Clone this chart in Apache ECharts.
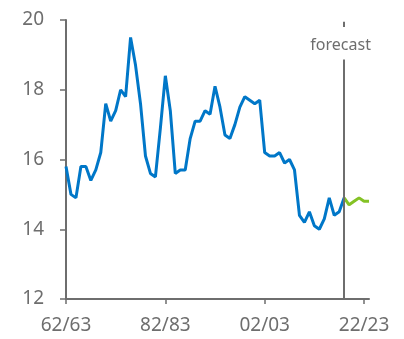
<!DOCTYPE html>
<html>
<head>
<meta charset="utf-8">
<script src="https://cdn.jsdelivr.net/npm/echarts@6/dist/echarts.min.js"></script>
<style>
  html, body { margin: 0; padding: 0; background: #fff; }
  #chart { width: 404px; height: 339px; }
</style>
</head>
<body>
<div id="chart"></div>
<script>
// fiscal years 62/63 .. 23/24
var years = [];
for (var y = 1962; y <= 2023; y++) {
  var a = String(y % 100).padStart(2, "0");
  var b = String((y + 1) % 100).padStart(2, "0");
  years.push(a + "/" + b);
}

// actual values, 62/63 .. 18/19
var actual = [
  15.8, 15.0, 14.9, 15.8, 15.8, 15.4, 15.7, 16.2, 17.6, 17.1,
  17.4, 18.0, 17.8, 19.5, 18.7, 17.6, 16.1, 15.6, 15.5, 16.9,
  18.4, 17.4, 15.6, 15.7, 15.7, 16.6, 17.1, 17.1, 17.4, 17.3,
  18.1, 17.5, 16.7, 16.6, 17.0, 17.5, 17.8, 17.7, 17.6, 17.7,
  16.2, 16.1, 16.1, 16.2, 15.9, 16.0, 15.7, 14.4, 14.2, 14.5,
  14.1, 14.0, 14.3, 14.9, 14.4, 14.5, 14.9
];

// forecast values, 18/19 .. 23/24
var forecast = [14.9, 14.7, 14.8, 14.9, 14.8, 14.8];

var forecastStart = actual.length - 1;
var forecastData = [];
for (var i = 0; i < forecastStart; i++) forecastData.push(null);
forecastData = forecastData.concat(forecast);

var grey = "#6e6e6e";
var showEvery20 = function (idx) { return idx % 20 === 0; };

var chart = echarts.init(document.getElementById("chart"));
chart.setOption({
  animation: false,
  grid: { left: 66, right: 35, top: 20, bottom: 40 },
  xAxis: {
    type: "category",
    boundaryGap: false,
    data: years,
    axisLine: { lineStyle: { color: grey, width: 2 } },
    axisTick: { interval: showEvery20, length: 5, lineStyle: { color: grey, width: 1.5 } },
    axisLabel: {
      interval: showEvery20,
      color: grey,
      fontSize: 19,
      fontFamily: "Noto Sans",
      margin: 17
    }
  },
  yAxis: {
    type: "value",
    min: 12,
    max: 20,
    interval: 2,
    splitLine: { show: false },
    axisLine: { show: true, lineStyle: { color: grey, width: 2 } },
    axisTick: { show: true, length: 6, lineStyle: { color: grey, width: 1.5 } },
    axisLabel: { color: grey, fontSize: 19, fontFamily: "Noto Sans", margin: 22 }
  },
  series: [
    {
      name: "actual",
      type: "line",
      data: actual,
      symbol: "none",
      lineStyle: { color: "#0077c8", width: 3 },
      z: 3
    },
    {
      name: "forecast",
      type: "line",
      data: forecastData,
      symbol: "none",
      lineStyle: { color: "#84c225", width: 3 },
      z: 3,
      markLine: {
        silent: true,
        symbol: "none",
        lineStyle: { color: grey, width: 2, type: "solid" },
        data: [
          [
            { coord: [forecastStart, 12] },
            {
              coord: [forecastStart, 18.87],
              label: {
                show: true,
                position: "end",
                formatter: "forecast",
                color: grey,
                fontSize: 16,
                fontFamily: "Noto Sans",
                distance: 6,
                padding: [0, 7, 0, 0]
              }
            }
          ],
          [
            { coord: [forecastStart, 19.8], label: { show: false } },
            { coord: [forecastStart, 19.95], label: { show: false } }
          ]
        ]
      }
    }
  ]
});
</script>
</body>
</html>
